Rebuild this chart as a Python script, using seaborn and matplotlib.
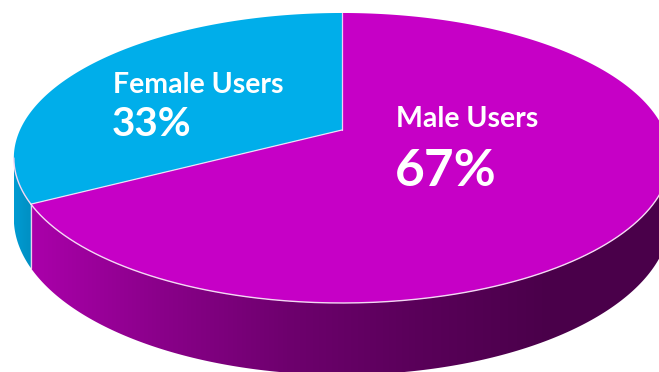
import numpy as np
import matplotlib
matplotlib.use("Agg")
import matplotlib.pyplot as plt
import seaborn as sns
from matplotlib.colors import LinearSegmentedColormap
from matplotlib.patches import Polygon

# ---- data ----
labels = ["Female Users", "Male Users"]
shares = [33, 67]
pct_labels = ["33%", "67%"]
top_colors = ["#00AEEA", "#C600C6"]
side_colors = [["#009BD2", "#008FC2"],
               ["#AA00AA", "#8A008A", "#6E006E", "#5A005A", "#4B004B", "#4A004A"]]

sns.set_theme(style="white")
plt.rcParams['font.family'] = ['Lato', 'DejaVu Sans']

W, H = 659, 372
fig = plt.figure(figsize=(6.59, 3.72), dpi=100)
ax = fig.add_axes([0, 0, 1, 1])
ax.set_xlim(0, W)
ax.set_ylim(H, 0)
ax.axis('off')

# perspective geometry of the disc
CX, CY = 342, 130
A, B, K, D = 322, 139.6, 0.193, 58


def proj(phi, drop=0.0):
    X = -np.sin(phi)
    Z = -np.cos(phi)
    s = 1.0 / (1.0 - K * Z)
    return CX + A * X * s, CY + B * Z * s + drop * s


frac = np.array(shares, float) / np.sum(shares)
bounds = np.concatenate([[0], np.cumsum(frac)]) * 2 * np.pi
phiL = np.arccos(-K)
phiR = 2 * np.pi - phiL

# sides
for i in range(len(shares)):
    lo, hi = max(bounds[i], phiL), min(bounds[i + 1], phiR)
    if lo >= hi:
        continue
    t = np.linspace(lo, hi, 200)
    ux, uy = proj(t)
    bx, by = proj(t[::-1], D)
    xs = np.concatenate([ux, bx])
    ys = np.concatenate([uy, by])
    poly = Polygon(np.column_stack([xs, ys]), closed=True, facecolor='none',
                   edgecolor='none')
    ax.add_patch(poly)
    cmap = LinearSegmentedColormap.from_list(f"side{i}", side_colors[i])
    grad = np.linspace(0, 1, 256)[None, :]
    x0, x1 = xs.min(), xs.max()
    if i == 1:
        x1 = max(x1, 600)
    im = ax.imshow(grad, cmap=cmap, aspect='auto',
                   extent=[x0, x1, ys.max(), ys.min()], zorder=1)
    im.set_clip_path(poly)

# vertical seam on the side
for b in bounds[1:-1]:
    if phiL < b < phiR:
        x_top, y_top = proj(b)
        x_bot, y_bot = proj(b, D)
        ax.plot([x_top, x_bot], [y_top, y_bot], color='white', lw=0.9,
                alpha=0.8, zorder=2)

ax.set_xlim(0, W)
ax.set_ylim(H, 0)

# tops
for i in range(len(shares)):
    t = np.linspace(bounds[i], bounds[i + 1], 300)
    ux, uy = proj(t)
    xs = np.concatenate([[CX], ux])
    ys = np.concatenate([[CY], uy])
    ax.fill(xs, ys, color=top_colors[i], lw=0, zorder=3)

# front rim highlight
t = np.linspace(phiL, phiR, 300)
rx, ry = proj(t)
ax.plot(rx, ry, color='#F4D8F4', lw=1.0, zorder=4)

# slice dividers on top
for b in bounds[:-1]:
    x, y = proj(b)
    ax.plot([CX, x], [CY, y], color='white', lw=0.9, alpha=0.8, zorder=4)

# labels
ax.text(113, 93, labels[0], color='white', fontsize=20.5, fontweight='bold',
        ha='left', va='baseline', zorder=5)
ax.text(112, 136, pct_labels[0], color='white', fontsize=29, fontweight='bold',
        ha='left', va='baseline', zorder=5)
ax.text(396, 127, labels[1], color='white', fontsize=20.5, fontweight='bold',
        ha='left', va='baseline', zorder=5)
ax.text(395, 186, pct_labels[1], color='white', fontsize=37, fontweight='bold',
        ha='left', va='baseline', zorder=5)

fig.savefig("out.png", dpi=100)
